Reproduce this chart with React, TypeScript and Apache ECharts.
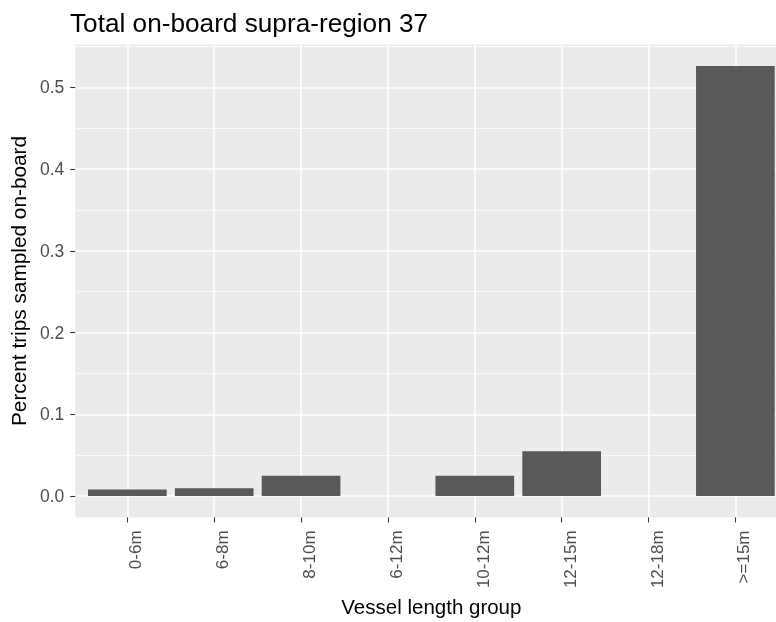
import React, { useEffect, useRef } from 'react';
import * as echarts from 'echarts';

const categories = ['0-6m', '6-8m', '8-10m', '6-12m', '10-12m', '12-15m', '12-18m', '>=15m'];
const percentOnBoard = [0.0078, 0.0093, 0.0247, 0, 0.0247, 0.0546, 0, 0.5263];
const yTicks = [0, 0.1, 0.2, 0.3, 0.4, 0.5];
const yMinorTicks = [0.05, 0.15, 0.25, 0.35, 0.45, 0.55];

export default function App() {
  const ref = useRef<HTMLDivElement>(null);
  useEffect(() => {
    const chart = echarts.init(ref.current!, null, { renderer: 'svg' });
    const font = '"Liberation Sans", Arial, sans-serif';
    const n = categories.length;
    const xTicks = categories.map((_, i) => i);
    const maxV = Math.max(...percentOnBoard);
    const yMin = -0.05 * maxV;
    const yMax = 1.05 * maxV;
    const gridLeft = 70.5;
    const gridWidth = 717;
    const xMin = -0.6;
    const xMax = n - 1 + 0.6;
    const barWidth = (gridWidth / (xMax - xMin)) * 0.9;

    chart.setOption({
      animation: false,
      title: {
        text: 'Total on-board supra-region 37',
        left: 70,
        top: 10,
        padding: 0,
        textStyle: { fontFamily: font, fontSize: 26.2, fontWeight: 'normal', color: '#000000' },
      },
      grid: {
        left: gridLeft,
        top: 44.5,
        width: gridWidth,
        height: 477.5,
        show: true,
        backgroundColor: '#EBEBEB',
        borderWidth: 0,
      },
      xAxis: {
        type: 'value',
        min: xMin,
        max: xMax,
        name: 'Vessel length group',
        nameLocation: 'middle',
        nameGap: 75,
        nameTextStyle: { fontFamily: font, fontSize: 20.5, color: '#000000' },
        axisLine: { show: false, onZero: false },
        axisTick: {
          show: true,
          length: 5,
          customValues: xTicks,
          lineStyle: { color: '#333333', width: 1.1 },
        },
        axisLabel: {
          customValues: xTicks,
          rotate: 90,
          verticalAlign: 'top',
          margin: 13,
          fontFamily: font,
          fontSize: 17,
          color: '#4D4D4D',
          formatter: (v: number) => categories[Math.round(v)] ?? '',
        },
        splitLine: { show: true, lineStyle: { color: '#FFFFFF', width: 1.6 } },
      },
      yAxis: [
        {
          type: 'value',
          min: yMin,
          max: yMax,
          name: 'Percent trips sampled on-board',
          nameLocation: 'middle',
          nameGap: 33,
          nameRotate: 90,
          nameTextStyle: { fontFamily: font, fontSize: 20.8, color: '#000000' },
          axisLine: { show: false, onZero: false },
          axisTick: {
            show: true,
            length: 5,
            customValues: yTicks,
            lineStyle: { color: '#333333', width: 1.1 },
          },
          axisLabel: {
            customValues: yTicks,
            margin: 11,
            fontFamily: font,
            fontSize: 17.5,
            color: '#4D4D4D',
            formatter: (v: number) => v.toFixed(1),
          },
          splitLine: { show: true, lineStyle: { color: '#FFFFFF', width: 1.6 } },
          z: 2,
        },
        {
          type: 'value',
          min: yMin,
          max: yMax,
          position: 'left',
          axisLine: { show: false, onZero: false },
          axisTick: { show: false, customValues: yMinorTicks },
          axisLabel: { show: false, customValues: yMinorTicks },
          splitLine: { show: true, lineStyle: { color: '#FFFFFF', width: 0.8 } },
          z: 1,
        },
      ],
      series: [
        {
          type: 'bar',
          xAxisIndex: 0,
          yAxisIndex: 0,
          barWidth: barWidth,
          itemStyle: { color: '#595959' },
          data: percentOnBoard.map((v, i) => [i, v]),
          z: 3,
        },
      ],
    });
    return () => chart.dispose();
  }, []);
  return (
    <div style={{ position: 'fixed', left: 0, top: 0, width: 776, height: 622, overflow: 'hidden' }}>
      <div ref={ref} style={{ width: 810, height: 622 }} />
    </div>
  );
}
